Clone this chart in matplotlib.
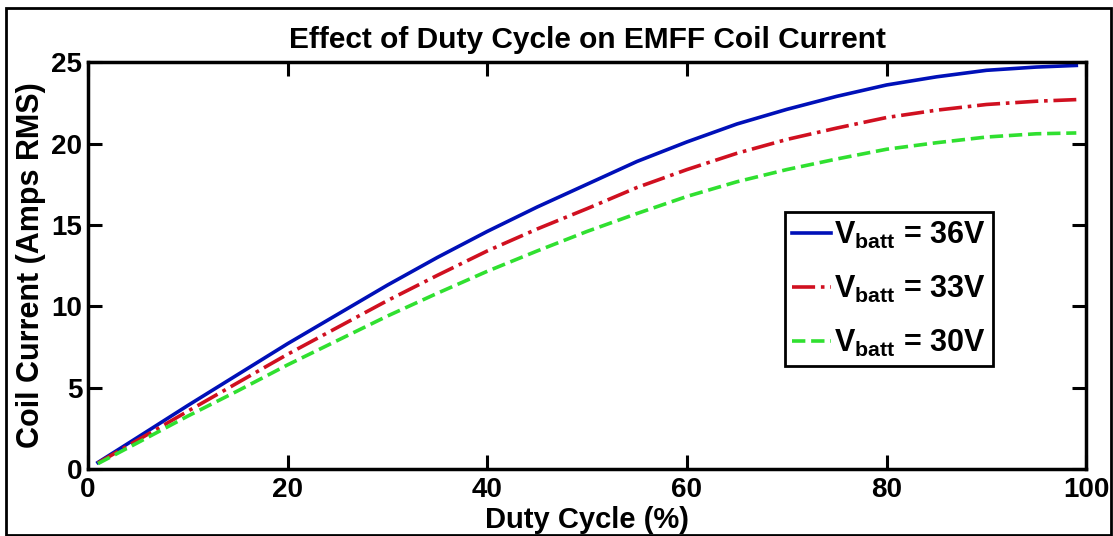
import numpy as np
import matplotlib.pyplot as plt
from matplotlib.patches import Rectangle

# duty cycle (%) and coil current (Amps RMS)
duty = [1, 5, 10, 15, 20, 25, 30, 35, 40, 45, 50, 55, 60, 65, 70, 75, 80, 85, 90, 95, 99]
i_36v = [0.4, 1.95, 3.9, 5.8, 7.7, 9.5, 11.3, 13.0, 14.6, 16.1, 17.5, 18.9, 20.1,
         21.2, 22.1, 22.9, 23.6, 24.1, 24.5, 24.7, 24.8]
i_33v = [0.37, 1.78, 3.55, 5.3, 7.05, 8.7, 10.35, 11.9, 13.4, 14.75, 16.0, 17.3, 18.4,
         19.4, 20.25, 20.95, 21.6, 22.05, 22.4, 22.6, 22.7]
i_30v = [0.33, 1.62, 3.25, 4.8, 6.4, 7.9, 9.4, 10.8, 12.15, 13.4, 14.6, 15.7, 16.75,
         17.65, 18.4, 19.05, 19.65, 20.05, 20.4, 20.6, 20.65]
labels = ['V$_{batt}$ = 36V', 'V$_{batt}$ = 33V', 'V$_{batt}$ = 30V']

plt.rcParams['font.family'] = ['Liberation Sans', 'DejaVu Sans']
plt.rcParams['font.weight'] = 'bold'
plt.rcParams['mathtext.fontset'] = 'custom'
plt.rcParams['mathtext.rm'] = 'Liberation Sans:bold'
plt.rcParams['mathtext.bf'] = 'Liberation Sans:bold'
plt.rcParams['mathtext.default'] = 'bf'

fig = plt.figure(figsize=(11.13, 5.36), dpi=100)
ax = fig.add_axes([0.079, 0.125, 0.897, 0.759])

ax.plot(duty, i_36v, color='#0010b8', lw=2.6, ls='-', label=labels[0])
ax.plot(duty, i_33v, color='#d01020', lw=2.6, ls='-.', label=labels[1])
ax.plot(duty, i_30v, color='#30e030', lw=2.6, ls='--', label=labels[2])

ax.set_xlim(0, 100)
ax.set_ylim(0, 25)
ax.set_xticks([0, 20, 40, 60, 80, 100])
ax.set_yticks([0, 5, 10, 15, 20, 25])
ax.tick_params(axis='both', direction='in', length=10, width=2.2, labelsize=20,
               top=True, right=True)
ax.tick_params(axis='x', pad=6)
ax.tick_params(axis='y', pad=4)
for lab in ax.get_xticklabels() + ax.get_yticklabels():
    lab.set_fontweight('bold')
for sp in ax.spines.values():
    sp.set_linewidth(2.5)

ax.set_title('Effect of Duty Cycle on EMFF Coil Current', fontsize=21.5,
             fontweight='bold', pad=10)
ax.set_xlabel('Duty Cycle (%)', fontsize=21, fontweight='bold')
ax.xaxis.set_label_coords(0.5, -0.09)
ax.set_ylabel('Coil Current (Amps RMS)', fontsize=22, fontweight='bold', labelpad=4)

leg = ax.legend(loc='upper left', bbox_to_anchor=(0.698, 0.632), fontsize=22,
                handlelength=1.25, handletextpad=0.1, borderpad=0.25,
                labelspacing=0.75, fancybox=False, framealpha=1, edgecolor='black',
                borderaxespad=0)
leg.get_frame().set_linewidth(2.0)

# outer frame around the whole figure
fig.patches.append(Rectangle((0.005, 0.002), 0.993, 0.984, transform=fig.transFigure,
                             fill=False, edgecolor='black', lw=2))

fig.savefig('out.png', dpi=100)
